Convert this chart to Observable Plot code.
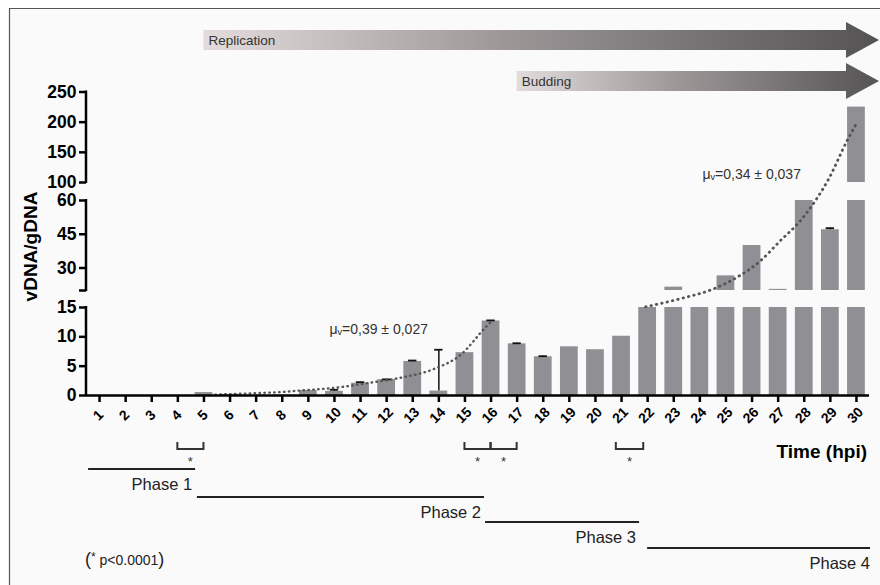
<!DOCTYPE html>
<html><head><meta charset="utf-8">
<script src="https://cdn.jsdelivr.net/npm/d3@7"></script>
<script src="https://cdn.jsdelivr.net/npm/@observablehq/plot@0.6"></script>
<style>
html,body{margin:0;padding:0;background:#fff;overflow:hidden;}
#chart{width:880px;height:585px;}
</style></head><body><div id="chart"></div>
<script>
// ---- data ----
const hours = d3.range(1, 31);
const values = [0, 0, 0, 0, 0.5, 0.2, 0.05, 0.05, 0.85, 0.7,
                2.1, 2.7, 5.8, 0.75, 7.3, 12.7, 8.8, 6.6, 8.3, 7.8,
                10.1, 17, 21.5, 18, 26.5, 40, 20.5, 70, 47, 225];
const errHours = [10, 11, 12, 13, 14, 16, 17, 18, 29];
const errValues = [0.27, 0.17, 0.05, 0.16, 7.05, 0.1, 0.1, 0.1, 0.7];
const yTicks = [0, 5, 10, 15, 20, 30, 45, 60, 100, 150, 200, 250];
const ySegments = [[0, 15], [20, 60], [100, 250]];
const fit1Hours = [5.44, 7, 8, 8.7, 10, 11.25, 12.5, 13.8, 14.8, 15.85, 16.04];
const fit1Values = [0.15, 0.4, 0.6, 0.85, 1.3, 2.1, 3.0, 4.5, 6.8, 11.9, 12.7];
const fit2Hours = [21.92, 23.26, 24.54, 25.43, 26.33, 27.09, 27.86, 28.43, 28.9, 29.65, 30.03];
const fit2Values = [15.2, 17.6, 20.8, 25.9, 33.3, 42.2, 51.1, 60, 103, 170, 200];
const fitLabels = ["μᵥ=0,39 ± 0,027", "μᵥ=0,34 ± 0,037"];
const fitLabelHours = [9.81, 24.1];
const fitLabelValues = [11.3, 113];
const arrowLabels = ["Replication", "Budding"];
const arrowStartHours = [5, 17];
const phaseLabels = ["Phase 1", "Phase 2", "Phase 3", "Phase 4"];
const phaseFrom = [0.58, 4.75, 15.79, 22.0];
const phaseTo = [4.68, 15.75, 21.69, 30.54];
const bracketFrom = [4, 15, 16, 20.8];
const bracketTo = [5, 16, 17, 21.85];
const xTickLabels = hours.map(String);
const xTitle = "Time (hpi)";
const yTitle = "vDNA/gDNA";

// ---- derived tables ----
const barRects = [];
hours.forEach((h, i) => {
  const v = values[i];
  ySegments.forEach(([lo, hi]) => {
    if (v > lo) barRects.push({h, y1: lo, y2: Math.min(v, hi)});
  });
});
const errData = errHours.map((h, i) => ({h, v: values[h - 1], e: errValues[i]}));
const fit1 = fit1Hours.map((h, i) => ({h, v: fit1Values[i]}));
const fit2 = fit2Hours.map((h, i) => ({h, v: fit2Values[i]}));
const fitLab = fitLabels.map((t, i) => ({t, h: fitLabelHours[i], v: fitLabelValues[i]}));

const FONT = '"Liberation Sans", Arial, Helvetica, sans-serif';

function decorations(index, scales, vals, dims) {
  const x = scales.x, y = scales.y;
  const W = dims.width, H = dims.height, L = dims.marginLeft;
  const g = d3.create("svg:g").attr("font-family", FONT).attr("text-anchor", "start");
  g.append("rect").attr("x", 9).attr("y", 8).attr("width", W).attr("height", H).attr("fill", "#fafafa");
  g.append("path").attr("d", `M9.5,${H}V8.5H${W}`).attr("fill", "none").attr("stroke", "#555").attr("stroke-width", 1.2);
  const defs = g.append("defs");
  const arrowY = [40, 81];
  arrowLabels.forEach((lab, i) => {
    const gr = defs.append("linearGradient").attr("id", "grad" + i).attr("x1", 0).attr("x2", 1).attr("y1", 0).attr("y2", 0);
    gr.append("stop").attr("offset", 0).attr("stop-color", "#e3dcdc");
    gr.append("stop").attr("offset", 0.45).attr("stop-color", "#9c9697");
    gr.append("stop").attr("offset", 1).attr("stop-color", "#555353");
    const x0 = x(arrowStartHours[i]);
    const tip = x(30.5) + 10, hb = tip - 33, cy = arrowY[i];
    g.append("path")
      .attr("d", `M${x0},${cy - 10}H${hb}V${cy - 18}L${tip},${cy}L${hb},${cy + 18}V${cy + 10}H${x0}Z`)
      .attr("fill", `url(#grad${i})`);
    g.append("text").attr("x", x0 + 5).attr("y", cy).attr("dy", "0.35em").attr("text-anchor", "start")
      .attr("font-size", 13.5).attr("fill", "#333").text(lab);
  });
  ySegments.forEach(([lo, hi]) => {
    g.append("line").attr("x1", L).attr("x2", L).attr("y1", y(lo) + 1).attr("y2", y(hi) - 1)
      .attr("stroke", "#000").attr("stroke-width", 2.5);
  });
  const y0 = y(0);
  hours.forEach((h, i) => {
    g.append("text").attr("transform", `translate(${x(h) - 1},${y0 + 20}) rotate(-45)`)
      .attr("text-anchor", "middle").attr("dy", "0.35em").attr("font-weight", "bold")
      .attr("font-size", 14).attr("fill", "#000").text(xTickLabels[i]);
  });
  g.append("text").attr("transform", `translate(30,${(y(15) + y(100)) / 2 + 2}) rotate(-90)`)
    .attr("text-anchor", "middle").attr("dy", "0.35em").attr("font-weight", "bold").attr("font-size", 19).text(yTitle);
  g.append("text").attr("x", x(30.5) - 2).attr("y", 458).attr("text-anchor", "end")
    .attr("font-weight", "bold").attr("font-size", 19).text(xTitle);
  bracketFrom.forEach((a, i) => {
    const xa = x(a), xb = x(bracketTo[i]);
    g.append("path").attr("d", `M${xa},442V449H${xb}V442`).attr("fill", "none").attr("stroke", "#333").attr("stroke-width", 2);
    g.append("text").attr("x", (xa + xb) / 2).attr("y", 466).attr("text-anchor", "middle")
      .attr("font-size", 13).attr("fill", "#333").text("*");
  });
  const phaseY = [469, 497, 522, 548];
  phaseLabels.forEach((lab, i) => {
    g.append("line").attr("x1", x(phaseFrom[i])).attr("x2", x(phaseTo[i])).attr("y1", phaseY[i]).attr("y2", phaseY[i])
      .attr("stroke", "#222").attr("stroke-width", 2);
    g.append("text").attr("x", x(phaseTo[i]) - (i === 3 ? 0 : 3)).attr("y", phaseY[i] + 21).attr("text-anchor", "end")
      .attr("font-size", 16.5).attr("fill", "#222").text(lab);
  });
  const ft = g.append("text").attr("x", L - 1).attr("y", 565).attr("text-anchor", "start").attr("fill", "#222");
  ft.append("tspan").attr("font-size", 18).text("(");
  ft.append("tspan").attr("font-size", 12).attr("dy", -4).text("*");
  ft.append("tspan").attr("font-size", 14).attr("dy", 4).text(" p<0.0001");
  ft.append("tspan").attr("font-size", 18).text(")");
  return g.node();
}

const chart = Plot.plot({
  width: 880,
  height: 585,
  marginLeft: 86,
  marginRight: 11,
  marginTop: 91.5,
  marginBottom: 190,
  style: {fontFamily: FONT, background: "transparent", overflow: "visible"},
  x: {type: "linear", domain: [0.5, 30.5]},
  y: {type: "linear", domain: [0, 15, 20, 60, 100, 250], range: [395, 307, 290, 200, 182, 91.5]},
  marks: [
    decorations,
    Plot.rect(barRects, {x1: d => d.h - 0.34, x2: d => d.h + 0.34, y1: "y1", y2: "y2", fill: "#8f8f94"}),
    Plot.ruleX(errData, {x: "h", y1: "v", y2: d => d.v + d.e, stroke: "#111", strokeWidth: 1.5}),
    Plot.ruleY(errData, {y: d => d.v + d.e, x1: d => d.h - 0.16, x2: d => d.h + 0.16, stroke: "#111", strokeWidth: 1.8}),
    Plot.line(fit1, {x: "h", y: "v", curve: "monotone-x", stroke: "#555", strokeWidth: 2.4,
      strokeDasharray: "0.5 4.4", strokeLinecap: "round"}),
    Plot.line(fit2, {x: "h", y: "v", curve: "monotone-x", stroke: "#555", strokeWidth: 2.8,
      strokeDasharray: "0.5 5", strokeLinecap: "round"}),
    Plot.text(fitLab, {x: "h", y: "v", text: "t", textAnchor: "start", fontSize: 14, fill: "#333"}),
    Plot.ruleY([0], {stroke: "#000", strokeWidth: 2.5}),
    Plot.axisY({ticks: yTicks, tickSize: 7, tickPadding: 3, fontSize: 17.5, fontWeight: "bold",
      strokeWidth: 2.5, tickFormat: d => d === 20 ? "" : String(d), label: null, fill: "#000"}),
    Plot.axisX({ticks: hours, tickSize: 7, strokeWidth: 2.5, tickFormat: () => "", label: null})
  ]
});
document.getElementById("chart").appendChild(chart);
</script>
</body></html>
